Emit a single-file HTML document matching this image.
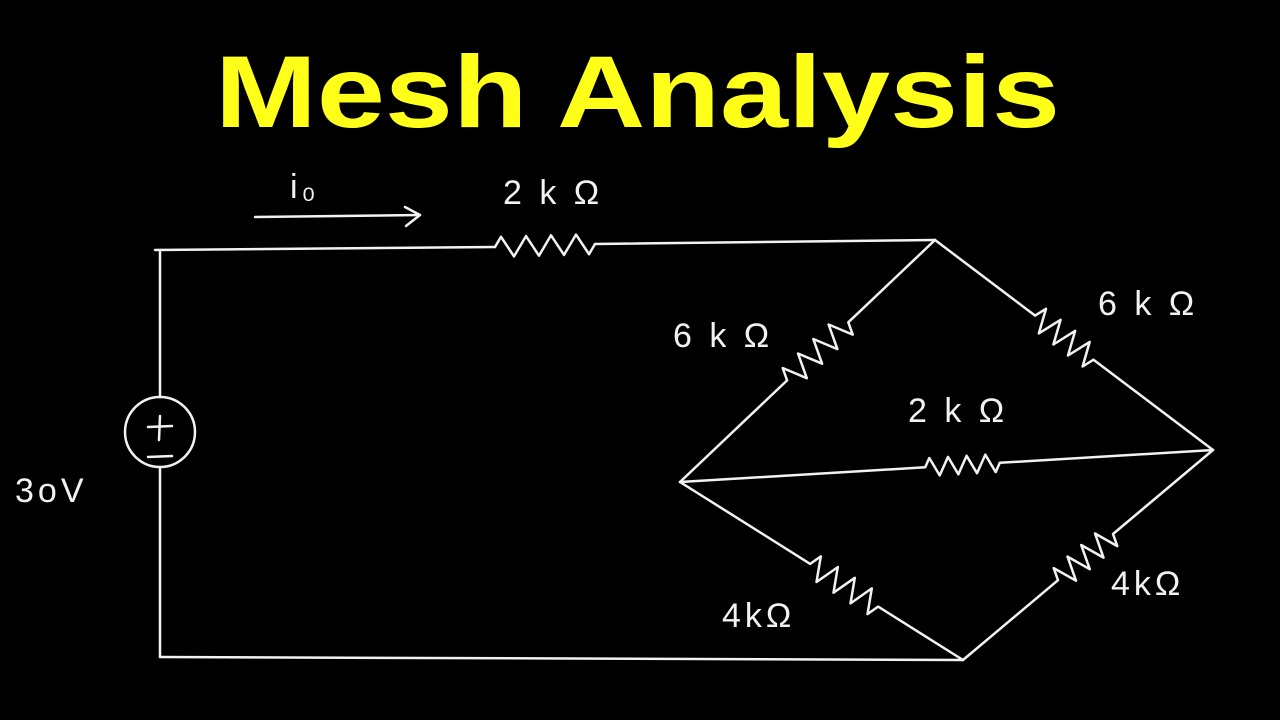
<!DOCTYPE html>
<html><head><meta charset="utf-8"><style>
html,body{margin:0;padding:0;background:#000;width:1280px;height:720px;overflow:hidden}
</style></head><body>
<svg id="s" width="1280" height="720" viewBox="0 0 1280 720" xmlns="http://www.w3.org/2000/svg">
<rect width="1280" height="720" fill="#000"/>
<text x="215" y="127" font-family="Liberation Sans, sans-serif" font-weight="bold" font-size="102" fill="#ffff1a" textLength="845" lengthAdjust="spacingAndGlyphs">Mesh Analysis</text>
<g stroke="#f2f2f2" stroke-width="2.5" fill="none" stroke-linecap="round" stroke-linejoin="round" id="w">
<line x1="160" y1="250" x2="160" y2="397"/>
<line x1="160" y1="467" x2="160" y2="657"/>
<line x1="160" y1="657" x2="963" y2="660"/>
<line x1="155" y1="250" x2="495" y2="247"/>
<line x1="595" y1="244" x2="935" y2="240"/>
<circle cx="160" cy="432" r="35"/>
<line x1="148" y1="427" x2="172" y2="426"/>
<line x1="160" y1="416" x2="159" y2="440"/>
<line x1="148" y1="457" x2="172" y2="456"/>
<line x1="255" y1="217" x2="420" y2="215"/>
<polyline points="405,207 420,215 406,226"/>
</g>
<g font-family="Liberation Sans, sans-serif" font-size="34" fill="#f2f2f2" letter-spacing="4">
<text x="290" y="198">i₀</text>
<text x="503" y="204">2 k Ω</text>
<text x="673" y="347">6 k Ω</text>
<text x="1098" y="315">6 k Ω</text>
<text x="908" y="422">2 k Ω</text>
<text x="722" y="627">4kΩ</text>
<text x="1111" y="595">4kΩ</text>
<text x="15" y="502">3oV</text>
</g>
</svg>
<script>
var g=document.getElementById('w');
function res(x1,y1,x2,y2,a,b,n,amp){
 var dx=x2-x1,dy=y2-y1,L=Math.hypot(dx,dy),ux=dx/L,uy=dy/L,px=-uy,py=ux;
 var pts=[[x1,y1]];var sx=x1+dx*a,sy=y1+dy*a,ex=x1+dx*b,ey=y1+dy*b;
 pts.push([sx,sy]);
 var seg=L*(b-a);
 for(var i=0;i<n*2;i++){var t=(i+0.5)/(n*2);var s=(i%2?1:-1)*amp;
  pts.push([sx+ux*seg*t+px*s,sy+uy*seg*t+py*s]);}
 pts.push([ex,ey]);pts.push([x2,y2]);
 var p=document.createElementNS('http://www.w3.org/2000/svg','polyline');
 p.setAttribute('points',pts.map(function(q){return q[0].toFixed(1)+','+q[1].toFixed(1)}).join(' '));
 g.appendChild(p);
}
res(495,247,595,244,0,1,4,10);
res(935,240,680,482,0.34,0.58,4,12);
res(935,240,1213,450,0.36,0.57,4,12);
res(680,482,1213,450,0.46,0.6,4,9);
res(680,482,963,660,0.46,0.7,4,12);
res(963,660,1213,450,0.38,0.6,4,12);
</script>
</body></html>
